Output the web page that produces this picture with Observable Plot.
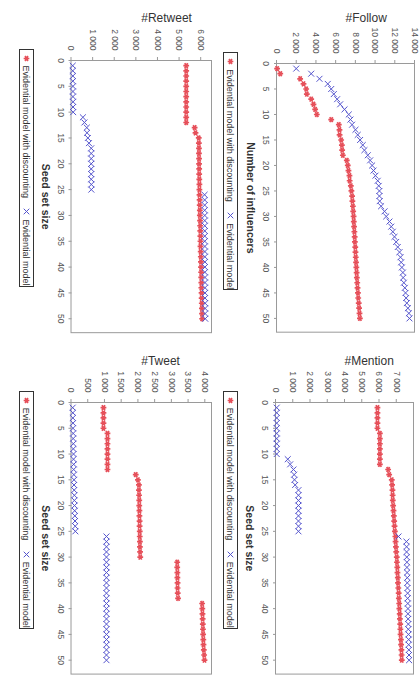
<!DOCTYPE html>
<html>
<head>
<meta charset="utf-8">
<script src="https://cdn.jsdelivr.net/npm/d3@7"></script>
<script src="https://cdn.jsdelivr.net/npm/@observablehq/plot@0.6"></script>
<style>
  html, body { margin: 0; padding: 0; background: #fff; }
  #page { position: relative; width: 420px; height: 681px; overflow: hidden; background: #fff; }
  /* The figure is laid out in landscape and turned a quarter turn clockwise. */
  #sheet {
    position: absolute; left: 0; top: 0; width: 681px; height: 420px;
    transform-origin: 0 0; transform: translate(420px, 0) rotate(90deg);
    font-family: "Liberation Sans", Arial, sans-serif;
  }
  #sheet svg { position: absolute; overflow: visible; }
  .legend {
    position: absolute; box-sizing: border-box; height: 15px; width: 238px;
    border: 1px solid #333; background: #fff;
    display: flex; align-items: center; white-space: nowrap;
    font-size: 9px; color: #333; padding-left: 4px;
  }
  .legend svg { position: static !important; margin-right: 3px; }
  .legend .gap { display: inline-block; width: 10px; }
</style>
</head>
<body>
<div id="page"><div id="sheet"></div></div>
<script>
// Seed set sizes shared by all four panels
const seedSize = [1,2,3,4,5,6,7,8,9,10,11,12,13,14,15,16,17,18,19,20,21,22,23,24,25,
  26,27,28,29,30,31,32,33,34,35,36,37,38,39,40,41,42,43,44,45,46,47,48,49,50];
const seedTicks = [0,5,10,15,20,25,30,35,40,45,50];

// #Follow
const followDiscount = [60,380,2400,2740,3010,3075,3520,3750,3920,4090,
  5550,6320,6390,6400,6560,6630,6660,6730,7130,7230,
  7300,7400,7420,7540,7600,7670,7700,7750,7780,7820,
  7840,7870,7900,7930,7950,7990,8010,8040,8070,8100,
  8130,8150,8190,8220,8260,8290,8340,8380,8420,8460];
const followEvidential = [2000,3520,4360,5200,5550,5810,6150,6460,6900,7330,
  7500,7670,8010,8240,8480,8750,8920,9260,9500,9700,
  9840,10040,10270,10370,10440,10440,10470,10610,10960,11130,
  11460,11640,11800,11970,12140,12300,12480,12580,12650,12720,
  12820,12850,12920,13020,13090,13150,13220,13330,13430,13490];
const followTicks = [0,2000,4000,6000,8000,10000,12000,14000];

// #Retweet
const retweetDiscount = [5330,5330,5330,5330,5330,5330,5330,5330,5330,5330,
  5330,5330,5720,5760,5910,5915,5920,5920,5925,5925,
  5930,5930,5935,5940,5940,5945,5950,5955,5960,5960,
  5970,5975,5980,5985,5990,5990,6000,6005,6010,6015,
  6020,6025,6030,6030,6040,6045,6050,6055,6060,6065];
const retweetEvidential = [80,80,85,85,90,90,90,95,95,100,
  550,620,730,740,780,830,935,935,935,935,
  935,935,935,940,940,6180,6185,6185,6185,6190,
  6190,6190,6190,6190,6190,6195,6195,6195,6195,6195,
  6195,6200,6200,6200,6200,6200,6205,6205,6205,6210];
const retweetTicks = [0,1000,2000,3000,4000,5000,6000];

// #Mention
const mentionDiscount = [5910,5910,5910,5910,5910,6050,6050,6050,6050,6050,
  6050,6050,6530,6590,6740,6760,6780,6790,6800,6820,
  6840,6860,6880,6900,6920,6950,6960,6980,7000,7030,
  7040,7060,7070,7090,7100,7120,7140,7150,7170,7180,
  7200,7210,7230,7240,7250,7270,7280,7300,7310,7320];
const mentionEvidential = [70,70,70,70,70,70,70,70,70,70,
  710,850,1040,1080,1100,1140,1330,1330,1330,1330,
  1330,1330,1330,1330,1330,7130,7590,7600,7600,7610,
  7620,7620,7630,7640,7640,7650,7660,7660,7670,7680,
  7680,7690,7700,7700,7710,7720,7720,7730,7740,7745];
const mentionTicks = [0,1000,2000,3000,4000,5000,6000,7000];

// #Tweet
const tweetDiscount = [970,970,970,970,970,1090,1090,1090,1090,1090,
  1090,1090,1090,1935,2000,2030,2030,2035,2040,2040,
  2045,2045,2050,2050,2055,2055,2060,2060,2065,2070,
  3175,3175,3180,3180,3185,3185,3190,3200,3920,3925,
  3930,3935,3940,3945,3950,3955,3960,3970,3980,3990];
const tweetEvidential = [50,55,55,60,60,65,65,70,70,75,
  75,80,80,85,90,90,95,100,100,105,
  110,115,120,125,130,1060,1060,1060,1060,1060,
  1060,1060,1060,1060,1060,1060,1060,1060,1060,1060,
  1060,1060,1060,1060,1060,1060,1060,1060,1060,1060];
const tweetTicks = [0,500,1000,1500,2000,2500,3000,3500,4000];

const seriesNames = ["Evidential model with discounting", "Evidential model"];
const red = "#e6505a";
const blue = "#5353cc";

// Thousands grouped with a space: 14 000
const fmt = d3.formatLocale({decimal: ",", thousands: "\u00a0", grouping: [3], currency: ["", ""]}).format(",d");

const sheet = document.getElementById("sheet");

function panel({title, xLabel, discount, evidential, yMax, yTicks, frame, titleAt, legendTop}) {
  const [u0, u1, v0, v1] = frame;
  const ML = 66, MR = 6, MT = 6, MB = 38;
  const rows = (values) => seedSize.map((s, i) => ({seed: s, value: values[i]}));
  const chart = Plot.plot({
    width: ML + (u1 - u0) + MR,
    height: MT + (v1 - v0) + MB,
    marginLeft: ML, marginRight: MR, marginTop: MT, marginBottom: MB,
    style: {fontFamily: '"Liberation Sans", Arial, sans-serif', background: "transparent", color: "#555"},
    x: {domain: [0, 52.7], axis: null},
    y: {domain: [0, yMax], axis: null},
    marks: [
      Plot.frame({stroke: "#9a9a9a"}),
      Plot.axisX({ticks: seedTicks, tickSize: 3, tickPadding: 4, fontSize: 8.5, label: null, stroke: "#999"}),
      Plot.axisY({ticks: yTicks, tickFormat: fmt, tickSize: 3, tickPadding: 7, fontSize: 8.5, label: null, stroke: "#999"}),
      Plot.text([title], {frameAnchor: "left", dx: titleAt - u0, rotate: -90, fontSize: 12, fill: "#333", lineAnchor: "middle"}),
      Plot.text([xLabel], {frameAnchor: "bottom", dy: 26, fontSize: 10.5, fontWeight: "bold", fill: "#333", lineAnchor: "middle"}),
      Plot.dot(rows(discount), {x: "seed", y: "value", symbol: "asterisk", r: 2.7, stroke: red, strokeWidth: 1.7}),
      Plot.dot(rows(evidential), {x: "seed", y: "value", symbol: "times", r: 2.8, stroke: blue, strokeWidth: 1})
    ]
  });
  chart.style.left = (u0 - ML) + "px";
  chart.style.top = (v0 - MT) + "px";
  sheet.appendChild(chart);

  // Legend box under the axis label
  const marker = (type, color, width) =>
    `<svg width="9" height="9" viewBox="-4.5 -4.5 9 9"><path d="${d3.symbol(type, 22)()}" fill="none" stroke="${color}" stroke-width="${width}"/></svg>`;
  const lg = document.createElement("div");
  lg.className = "legend";
  lg.style.left = (u0 - 11) + "px";
  lg.style.top = legendTop + "px";
  lg.innerHTML = marker(d3.symbolAsterisk, red, 1.7) + `<span>${seriesNames[0]}</span><span class="gap"></span>` +
    marker(d3.symbolTimes, blue, 1) + `<span>${seriesNames[1]}</span>`;
  sheet.appendChild(lg);
}

panel({title: "#Follow", xLabel: "Number of influencers", discount: followDiscount, evidential: followEvidential,
  yMax: 14000, yTicks: followTicks, frame: [63.3, 332, 5, 143], titleAt: 18, legendTop: 182});
panel({title: "#Retweet", xLabel: "Seed set size", discount: retweetDiscount, evidential: retweetEvidential,
  yMax: 6500, yTicks: retweetTicks, frame: [59.5, 331.7, 208, 348.5], titleAt: 17.3, legendTop: 386});
panel({title: "#Mention", xLabel: "Seed set size", discount: mentionDiscount, evidential: mentionEvidential,
  yMax: 8000, yTicks: mentionTicks, frame: [401.7, 673.3, 6, 144], titleAt: 360, legendTop: 182});
panel({title: "#Tweet", xLabel: "Seed set size", discount: tweetDiscount, evidential: tweetEvidential,
  yMax: 4200, yTicks: tweetTicks, frame: [401.7, 673.3, 208, 348.5], titleAt: 360, legendTop: 386});
</script>
</body>
</html>
